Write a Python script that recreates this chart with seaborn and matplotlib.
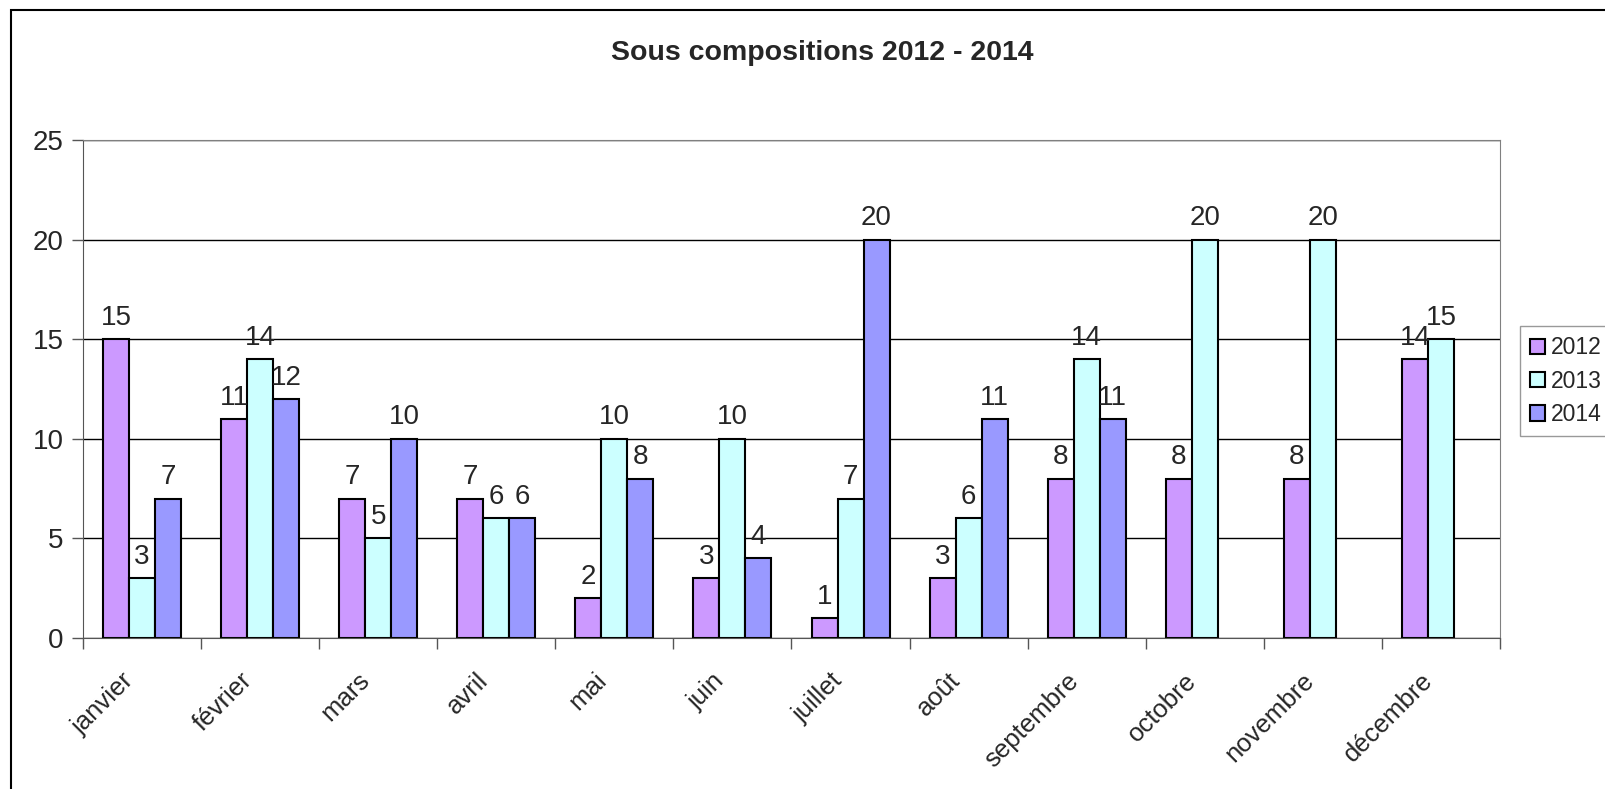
import pandas as pd
import numpy as np
import matplotlib
matplotlib.use("Agg")
import matplotlib.pyplot as plt
import matplotlib.transforms as mtransforms
import seaborn as sns
from matplotlib.patches import Rectangle

# Data
months = ['janvier', 'février', 'mars', 'avril', 'mai', 'juin', 'juillet',
          'août', 'septembre', 'octobre', 'novembre', 'décembre']
years = ['2012', '2013', '2014']
v2012 = [15, 11, 7, 7, 2, 3, 1, 3, 8, 8, 8, 14]
v2013 = [3, 14, 5, 6, 10, 10, 7, 6, 14, 20, 20, 15]
v2014 = [7, 12, 10, 6, 8, 4, 20, 11, 11, None, None, None]

colors = {'2012': '#CC99FF', '2013': '#CCFFFF', '2014': '#9999FF'}

# long format for seaborn, drop the missing months
rows = []
for year, vals in zip(years, [v2012, v2013, v2014]):
    for m, v in zip(months, vals):
        if v is not None:
            rows.append({'mois': m, 'annee': year, 'valeur': v})
df = pd.DataFrame(rows)

sns.set_style("white")
plt.rcParams['font.family'] = ['Liberation Sans', 'DejaVu Sans']

fs = 20

fig = plt.figure(figsize=(16.05, 7.89), dpi=100)
ax = fig.add_axes([83/1605, 1 - 638/789, (1500-83)/1605, (638-140)/789])

sns.barplot(data=df, x='mois', y='valeur', hue='annee', order=months,
            hue_order=years, palette=colors, width=0.66, edgecolor='black',
            linewidth=1.5, ax=ax, legend=True, errorbar=None, saturation=1)

for c in ax.containers:
    ax.bar_label(c, fmt='%g', padding=6, fontsize=fs)

ax.set_ylim(0, 25)
ax.set_yticks(range(0, 26, 5))
ax.set_xlim(-0.5, 11.5)
ax.set_xlabel('')
ax.set_ylabel('')
ax.yaxis.grid(True, color='black', linewidth=1)
ax.set_axisbelow(True)
for s in ['top', 'right']:
    ax.spines[s].set_color('#808080')
for s in ['left', 'bottom']:
    ax.spines[s].set_color('#555555')

ax.tick_params(axis='y', length=8, width=1, color='#555555', labelsize=fs, direction='out', left=True, pad=6)
# x ticks between categories
ax.set_xticks(np.arange(-0.5, 12, 1), minor=True)
ax.tick_params(axis='x', which='minor', length=8, width=1, color='#555555', bottom=True)
ax.tick_params(axis='x', which='major', length=0, labelsize=18.5, pad=28)
offset = mtransforms.ScaledTranslation(-12/100, 0, fig.dpi_scale_trans)
for lab in ax.get_xticklabels():
    lab.set_rotation(45)
    lab.set_ha('right')
    lab.set_va('center')
    lab.set_rotation_mode('anchor')
    lab.set_transform(lab.get_transform() + offset)

ax.legend_.remove()
handles = [Rectangle((0, 0), 1, 1, facecolor=colors[y], edgecolor='black', linewidth=1.5) for y in years]
fig.legend(handles, years, loc='upper left', bbox_to_anchor=(1520/1605, 1 - 326/789),
           fontsize=16.5, frameon=True, fancybox=False, edgecolor='#808080',
           handlelength=0.65, handleheight=0.65, handletextpad=0.25, labelspacing=0.45,
           borderpad=0.45, borderaxespad=0)

fig.text(822/1605, 1 - 53/789, 'Sous compositions 2012 - 2014', ha='center', va='center',
         fontsize=20.5, fontweight='bold')

# outer chart border
fig.patches.append(Rectangle((11/1605, -0.1), 2, 1 - 10/789 + 0.1, fill=False,
                             edgecolor='black', linewidth=1.5, transform=fig.transFigure))

fig.savefig('out.png', dpi=100)
